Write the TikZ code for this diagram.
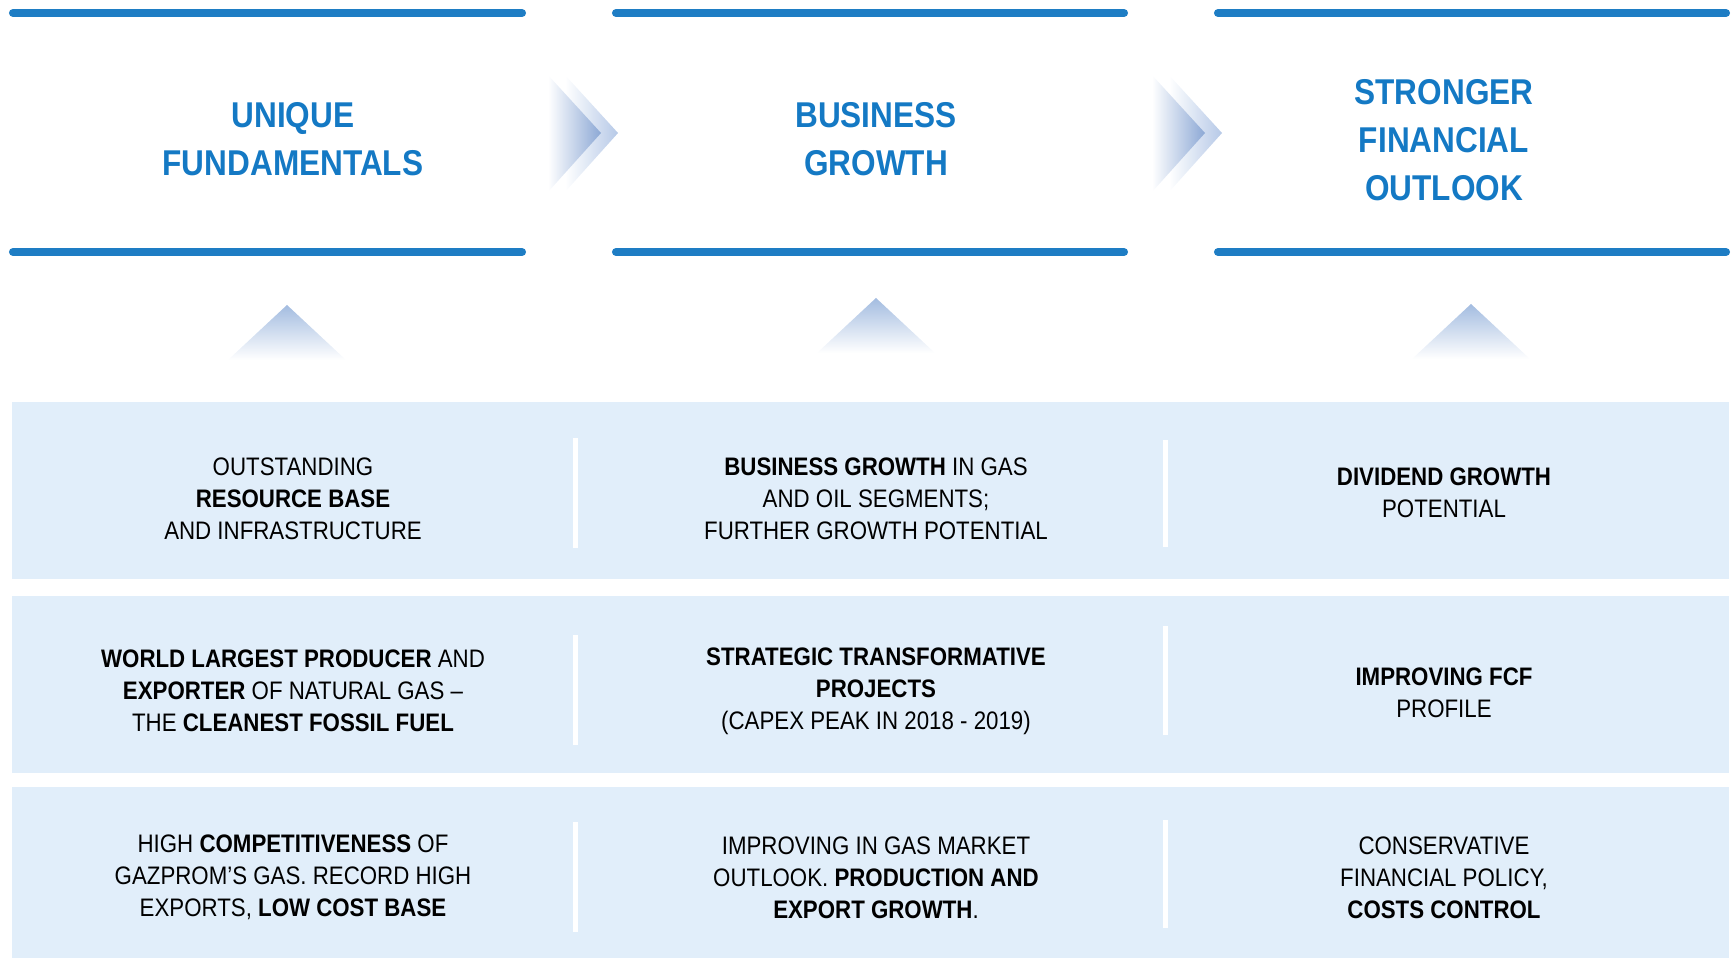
\documentclass[tikz,border=0pt]{standalone}
\usepackage{fontspec}
\setmainfont{Liberation Sans}[FakeStretch=0.88]
\usetikzlibrary{positioning}
\definecolor{barblue}{RGB}{30,125,196}
\definecolor{headblue}{RGB}{20,121,196}
\definecolor{panelblue}{RGB}{225,238,250}
\definecolor{chevfront}{RGB}{140,168,213}
\definecolor{chevback}{RGB}{182,201,231}
\definecolor{peakblue}{RGB}{163,188,224}

\begin{document}
\begin{tikzpicture}[x=0.01cm,y=-0.01cm]
\tikzstyle{head} = [text=headblue, align=center, font=\fontsize{10.2pt}{13.7pt}\selectfont\bfseries]
\tikzstyle{cell} = [text=black, align=center, font=\fontsize{7.2pt}{9.1pt}\selectfont]
\tikzstyle{bar} = [barblue, line width=2.3pt, line cap=round]
\useasboundingbox (0,0) rectangle (1732,958);
\fill[panelblue] (12,402) rectangle (1729,579);
\fill[panelblue] (12,596) rectangle (1729,773);
\fill[panelblue] (12,787) rectangle (1729,958);
\foreach \a/\b in {13/522, 616/1124, 1218/1726} {
  \draw[bar] (\a,13) -- (\b,13);
  \draw[bar] (\a,252) -- (\b,252);
}
\foreach \x in {548,1152} {
  \shade[left color=white, right color=chevback] (\x+17,75) -- (\x+70,133) -- (\x+17,192) -- cycle;
  \shade[left color=white, right color=chevfront] (\x,75) -- (\x+53,133) -- (\x,192) -- cycle;
}
\foreach \x/\y in {287/305, 876/298, 1471/304}
  \shade[top color=peakblue, bottom color=white] (\x-59,\y+55) -- (\x,\y) -- (\x+59,\y+55) -- cycle;
\foreach \x/\a/\b in {575/438/548, 575/635/745, 575/822/932, 1165/440/547, 1165/626/735, 1165/820/928}
  \fill[white] (\x-2.5,\a) rectangle (\x+2.5,\b);
\node[head] (uf) at (293,139) {UNIQUE\\FUNDAMENTALS};
\node[head] (bg) at (876,139) {BUSINESS\\GROWTH};
\node[head] (sfo) at (1444,140) {STRONGER\\FINANCIAL\\OUTLOOK};
\node[cell] (res) at (293,499) {OUTSTANDING\\\textbf{RESOURCE BASE}\\AND INFRASTRUCTURE};
\node[cell] (prod) at (293,691) {\textbf{WORLD LARGEST PRODUCER} AND\\\textbf{EXPORTER} OF NATURAL GAS –\\THE \textbf{CLEANEST FOSSIL FUEL}};
\node[cell] (comp) at (293,877) {HIGH \textbf{COMPETITIVENESS} OF\\GAZPROM’S GAS. RECORD HIGH\\EXPORTS, \textbf{LOW COST BASE}};
\node[cell] (seg) at (876,499) {\textbf{BUSINESS GROWTH} IN GAS\\AND OIL SEGMENTS;\\FURTHER GROWTH POTENTIAL};
\node[cell] (proj) at (876,691) {\textbf{STRATEGIC TRANSFORMATIVE}\\\textbf{PROJECTS}\\(CAPEX PEAK IN 2018 - 2019)};
\node[cell] (mkt) at (876,878) {IMPROVING IN GAS MARKET\\OUTLOOK. \textbf{PRODUCTION AND}\\\textbf{EXPORT GROWTH}.};
\node[cell] (div) at (1444,493) {\textbf{DIVIDEND GROWTH}\\POTENTIAL};
\node[cell] (fcf) at (1444,693) {\textbf{IMPROVING FCF}\\PROFILE};
\node[cell] (cost) at (1444,878) {CONSERVATIVE\\FINANCIAL POLICY,\\\textbf{COSTS CONTROL}};
\end{tikzpicture}
\end{document}
